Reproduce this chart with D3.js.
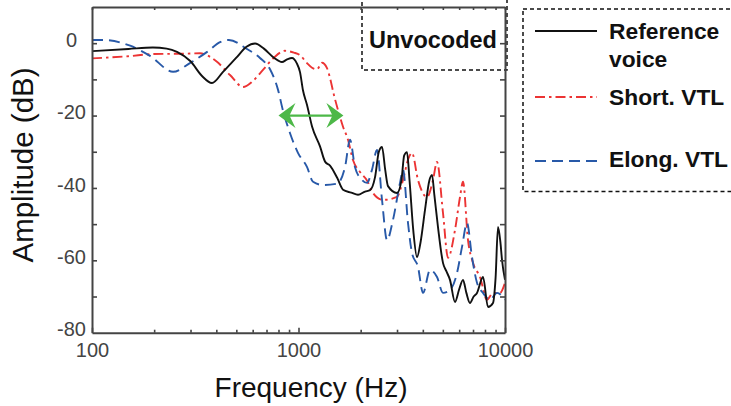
<!DOCTYPE html>
<html>
<head>
<meta charset="utf-8">
<script src="https://cdn.jsdelivr.net/npm/d3@7"></script>
<style>
    body { margin: 0; background: #fff; }
    text { font-family: "Liberation Sans", Arial, Helvetica, sans-serif; }
</style>
</head>
<body>
<div id="canvas"></div>
<script>
"use strict"

// DATA (frequency in Hz, amplitude in dB)

let refFreq = [100, 150, 197, 230, 258, 300, 340, 381, 430, 500, 560, 616, 680, 760, 832, 880, 930, 980, 1017, 1051,
    1099, 1163, 1271, 1347, 1421, 1539, 1643, 1800, 1942, 2100, 2220, 2348, 2450, 2538, 2630, 2713, 3000, 3150, 3250,
    3353, 3450, 3600, 3748, 3900, 4100, 4300, 4432, 4550, 4737, 5008, 5200, 5415, 5727, 6000, 6262, 6500, 6769, 7050,
    7318, 7824, 8275, 8748, 9000, 9250, 9500, 9672, 10000];
let refDb = [-2.2, -1.6, -1.2, -1.5, -2.4, -5, -9, -11, -8, -4, -1, -0.1, -1.5, -4, -5.2, -4.5, -4.1, -5.5, -8, -13,
    -17, -23, -28.5, -32.8, -33.8, -37.2, -40.5, -41.3, -41.9, -41, -40.6, -37, -30, -28.7, -35, -39.5, -41.4, -38, -31,
    -30.1, -38, -52, -59.1, -55, -46, -38, -36.4, -42, -50.8, -60.7, -63, -65.4, -71.5, -68, -65.4, -69, -71.8, -70,
    -69, -64.6, -72.9, -71.8, -65, -50.8, -55, -59.9, -65.4];

let shortFreq = [100, 150, 200, 280, 333, 400, 466, 539, 600, 673, 760, 860, 950, 1017, 1099, 1163, 1229, 1299, 1374,
    1421, 1480, 1554, 1643, 1737, 1836, 1986, 2150, 2295, 2566, 3000, 3207, 3400, 3545, 3790, 4192, 4481, 4685, 5008, 5297,
    5727, 6055, 6262, 6619, 6998, 7568, 8182, 8748, 9458, 10000];
let shortDb = [-4.2, -3.6, -3, -2.9, -2.8, -5, -8.8, -12.1, -10.5, -7.4, -4, -2.1, -2.6, -3.3, -5.5, -6.8, -7.2, -5.4, -6.9,
    -9.6, -14, -18.5, -23.1, -26.7, -32.3, -35.6, -38, -41.4, -43.3, -42.5, -37.8, -32, -30.3, -37.8, -42.5, -37.8, -32.8, -46.9, -59.3,
    -51.6, -42.5, -38.3, -54.4, -60.7, -64.6, -70.9, -69, -69, -66.2];

let elongFreq = [100, 112, 153, 191, 247, 298, 361, 417, 460, 563, 651, 728, 796, 840, 909, 994, 1099, 1176, 1314,
    1536, 1680, 1776, 1877, 2030, 2147, 2269, 2399, 2538, 2683, 2869, 3101, 3207, 3391, 3545, 3790, 4008, 4334, 4685,
    5008, 5415, 5856, 6192, 6546, 6921, 7318, 7824, 8459, 9148, 10000];
let elongDb = [0.9, 0.9, -0.7, -3.5, -7.9, -5.5, -2.4, 0.3, 0.9, -1.6, -4.1, -7.2, -12.9, -18.5, -24.8, -30.3, -34.2, -38.3, -39.2,
    -38.8, -34.2, -26.7, -34.2, -37.8, -38.6, -35, -29.5, -43.3, -54.4, -48.8, -38.6, -35, -49.7, -58, -61.8, -69, -62.7, -64.6,
    -69, -68.2, -63.5, -56.3, -49.7, -59.1, -66.2, -69, -70.9, -69, -70.9];

let seriesNames = ["Reference", "Short. VTL", "Elong. VTL"];
let xTickLabels = [100, 1000, 10000];
let yTickValues = [-70, -60, -50, -40, -30, -20, -10, 0];
let yTickLabels = [-80, -60, -40, -20, 0];
let arrowFreq = [800, 1650];
let arrowDb = -20;


// CONFIGURATION

let svgWidth = 731;
let svgHeight = 406;
let plotLeft = 92, plotRight = 505, plotTop = 7, plotBottom = 332.7;
let axisColor = "#444";


// CREATE SVG

let svg = d3.select("#canvas")
    .append("svg")
    .attr("width", svgWidth)
    .attr("height", svgHeight);


// SCALES

let xScale = d3.scaleLog()
    .domain([100, 10000])
    .range([plotLeft, plotRight]);

let yScale = d3.scaleLinear()
    .domain([-80, 10])
    .range([plotBottom, plotTop]);


// CLIP

svg.append("clipPath")
    .attr("id", "plotClip")
    .append("rect")
    .attr("x", plotLeft)
    .attr("y", plotTop)
    .attr("width", plotRight - plotLeft)
    .attr("height", plotBottom - plotTop);


// UNVOCODED LABEL (drawn under the axes so the frame stays on top)

svg.append("rect")
    .attr("x", 362)
    .attr("y", -3)
    .attr("width", 145)
    .attr("height", 73)
    .attr("fill", "#fff")
    .attr("stroke", "#111")
    .attr("stroke-width", 1.5)
    .attr("stroke-dasharray", "4,3");

svg.append("text")
    .attr("x", 369)
    .attr("y", 47.5)
    .style("font-size", "23.5px")
    .style("font-weight", "bold")
    .attr("fill", "#111")
    .text("Unvocoded");


// CURVES

let line = d3.line()
    .x(function(d) { return xScale(d[0]); })
    .y(function(d) { return yScale(d[1]); })
    .curve(d3.curveMonotoneX);

let curves = [
    { values: d3.zip(shortFreq, shortDb), color: "#ec3434", dash: "10,4,2.5,4" },
    { values: d3.zip(elongFreq, elongDb), color: "#2859a8", dash: "11,6" },
    { values: d3.zip(refFreq, refDb), color: "#111", dash: null }
];

svg.append("g")
    .attr("clip-path", "url(#plotClip)")
    .selectAll("path")
    .data(curves)
    .join("path")
    .attr("d", function(d) { return line(d.values); })
    .attr("fill", "none")
    .attr("stroke", function(d) { return d.color; })
    .attr("stroke-width", 1.9)
    .attr("stroke-dasharray", function(d) { return d.dash; });


// GREEN DOUBLE ARROW

let ax1 = xScale(arrowFreq[0]);
let ax2 = xScale(arrowFreq[1]);
let ay = yScale(arrowDb);
let arrowColor = "#4db848";

svg.append("line")
    .attr("x1", ax1 + 8)
    .attr("x2", ax2 - 8)
    .attr("y1", ay)
    .attr("y2", ay)
    .attr("stroke", arrowColor)
    .attr("stroke-width", 2.2);

svg.append("path")
    .attr("d", "M" + ax1 + "," + ay + " L" + (ax1 + 17) + "," + (ay - 12.5) + " L" + (ax1 + 11) + "," + ay +
        " L" + (ax1 + 17) + "," + (ay + 12.5) + "Z")
    .attr("fill", arrowColor);

svg.append("path")
    .attr("d", "M" + ax2 + "," + ay + " L" + (ax2 - 17) + "," + (ay - 12.5) + " L" + (ax2 - 11) + "," + ay +
        " L" + (ax2 - 17) + "," + (ay + 12.5) + "Z")
    .attr("fill", arrowColor);


// AXES

let bottomAxis = svg.append("g")
    .attr("transform", "translate(0," + plotBottom + ")")
    .call(d3.axisBottom(xScale)
        .tickValues(xScale.ticks())
        .tickSizeInner(-3)
        .tickSizeOuter(0)
        .tickFormat(function(d) { return xTickLabels.includes(d) ? d : ""; }));

bottomAxis.selectAll(".tick")
    .filter(function(d) { return xTickLabels.includes(d); })
    .select("line")
    .attr("y2", -5);

bottomAxis.selectAll("text")
    .attr("y", 24.5)
    .attr("dy", 0)
    .style("font-size", "20px")
    .attr("fill", axisColor);

let topAxis = svg.append("g")
    .attr("transform", "translate(0," + plotTop + ")")
    .call(d3.axisTop(xScale)
        .tickValues(xScale.ticks())
        .tickSizeInner(-3)
        .tickSizeOuter(0)
        .tickFormat(""));

let leftAxis = svg.append("g")
    .attr("transform", "translate(" + plotLeft + ",0)")
    .call(d3.axisLeft(yScale)
        .tickValues(yTickValues)
        .tickSizeInner(-5)
        .tickSizeOuter(0)
        .tickFormat(function(d) { return yTickLabels.includes(d) ? d : ""; }));

leftAxis.append("g")
    .attr("class", "tick")
    .attr("transform", "translate(0," + yScale(-80) + ")")
    .append("text")
    .text("-80");

leftAxis.selectAll("text")
    .attr("x", -20.5)
    .attr("dy", "0.17em")
    .attr("text-anchor", "middle")
    .style("font-size", "20px")
    .attr("fill", axisColor);

let rightAxis = svg.append("g")
    .attr("transform", "translate(" + plotRight + ",0)")
    .call(d3.axisRight(yScale)
        .tickValues(yTickValues)
        .tickSizeInner(-5)
        .tickSizeOuter(0)
        .tickFormat(""));

svg.selectAll(".domain, .tick line")
    .attr("stroke", axisColor)
    .attr("stroke-width", 1.6);

svg.selectAll(".domain")
    .attr("stroke-width", 2);


// AXIS TITLES

svg.append("text")
    .attr("x", 311)
    .attr("y", 396.5)
    .attr("text-anchor", "middle")
    .style("font-size", "28px")
    .attr("fill", "#111")
    .text("Frequency (Hz)");

svg.append("text")
    .attr("transform", "translate(33,165) rotate(-90)")
    .attr("text-anchor", "middle")
    .style("font-size", "29.5px")
    .attr("fill", "#111")
    .text("Amplitude (dB)");


// LEGEND

svg.append("rect")
    .attr("x", 523)
    .attr("y", 9)
    .attr("width", 230)
    .attr("height", 182.5)
    .attr("fill", "none")
    .attr("stroke", "#111")
    .attr("stroke-width", 1.5)
    .attr("stroke-dasharray", "4,3");

let legendRows = [
    { curve: curves[2], lineY: 31, textY: 39, lines: ["Reference", "voice"] },
    { curve: curves[0], lineY: 97, textY: 105, lines: [seriesNames[1]] },
    { curve: curves[1], lineY: 161, textY: 167, lines: [seriesNames[2]] }
];

legendRows.forEach(function(row) {
    svg.append("line")
        .attr("x1", 535)
        .attr("x2", 597)
        .attr("y1", row.lineY)
        .attr("y2", row.lineY)
        .attr("stroke", row.curve.color)
        .attr("stroke-width", 1.9)
        .attr("stroke-dasharray", row.curve.dash);

    row.lines.forEach(function(txt, i) {
        svg.append("text")
            .attr("x", 609)
            .attr("y", row.textY + i * 28)
            .style("font-size", "22.8px")
            .style("font-weight", "bold")
            .attr("fill", "#111")
            .text(txt);
    });
});
</script>
</body>
</html>
